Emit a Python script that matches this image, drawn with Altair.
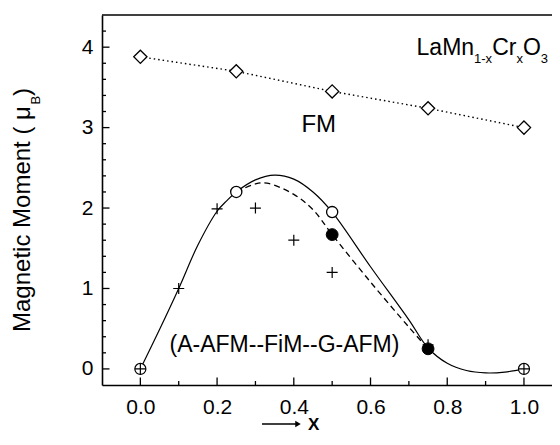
import altair as alt
import pandas as pd

FONT = "Liberation Sans"

# ---- data ----
fm_x = [0.0, 0.25, 0.5, 0.75, 1.0]
fm_y = [3.88, 3.70, 3.45, 3.24, 3.00]

open_x = [0.25, 0.5]
open_y = [2.2, 1.95]

filled_x = [0.5, 0.75]
filled_y = [1.67, 0.25]

cross_x = [0.0, 0.1, 0.2, 0.3, 0.4, 0.5, 0.75, 1.0]
cross_y = [0.0, 1.0, 1.99, 2.0, 1.6, 1.2, 0.3, 0.0]

ring_x = [0.0, 1.0]
ring_y = [0.0, 0.0]

solid_x = [0.0, 0.05, 0.1, 0.15, 0.2, 0.225, 0.25, 0.3, 0.35, 0.4, 0.45, 0.5, 0.6, 0.7, 0.75, 0.8, 0.85, 0.9, 0.95, 1.0]
solid_y = [0.0, 0.49, 1.0, 1.54, 1.96, 2.09, 2.2, 2.35, 2.41, 2.36, 2.2, 1.95, 1.27, 0.61, 0.26, 0.07, -0.02, -0.05, -0.04, 0.0]

dash_x = [0.25, 0.3, 0.33, 0.4, 0.45, 0.5, 0.6, 0.7, 0.75]
dash_y = [2.2, 2.3, 2.31, 2.17, 1.98, 1.67, 1.08, 0.52, 0.25]

x_major = [0.0, 0.2, 0.4, 0.6, 0.8, 1.0]
x_minor = [0.1, 0.3, 0.5, 0.7, 0.9]
y_major = [0, 1, 2, 3, 4]
y_minor = [0.2, 0.4, 0.6, 0.8, 1.2, 1.4, 1.6, 1.8, 2.2, 2.4, 2.6, 2.8,
           3.2, 3.4, 3.6, 3.8, 4.2]

W, H = 450, 370

xs = alt.Scale(domain=[-0.1, 1.0731], nice=False, zero=False)
ys = alt.Scale(domain=[-0.2, 4.4], nice=False, zero=False)

xaxis = alt.Axis(values=x_major, format=".1f", title=None, grid=False, ticks=False,
                 tickSize=0, labelPadding=11, labelFontSize=21, labelFont=FONT,
                 labelColor="black", domainColor="black", domainWidth=1.6,
                 labelFlush=False)
yaxis = alt.Axis(values=y_major, format="d", title=None, grid=False, ticks=False,
                 tickSize=0, labelPadding=9, labelFontSize=21, labelFont=FONT,
                 labelColor="black", domainColor="black", domainWidth=1.6)


def X(f="x"):
    return alt.X(f"{f}:Q", scale=xs, axis=xaxis)


def Y(f="y"):
    return alt.Y(f"{f}:Q", scale=ys, axis=yaxis)


df = lambda xx, yy: pd.DataFrame({"x": xx, "y": yy})

solid = alt.Chart(df(solid_x, solid_y)).mark_line(
    interpolate="catmull-rom", color="black", strokeWidth=1.2).encode(x=X(), y=Y())
dashed = alt.Chart(df(dash_x, dash_y)).mark_line(
    interpolate="catmull-rom", color="black", strokeWidth=1.3, strokeDash=[6, 4]).encode(x=X(), y=Y())
fmline = alt.Chart(df(fm_x, fm_y)).mark_line(
    color="black", strokeWidth=1.4, strokeDash=[1.5, 3]).encode(x=X(), y=Y())

diamonds = alt.Chart(df(fm_x, fm_y)).mark_point(
    shape="diamond", size=175, filled=True, fill="white", stroke="black",
    strokeWidth=1.3, opacity=1).encode(x=X(), y=Y())
rings = alt.Chart(df(ring_x, ring_y)).mark_point(
    shape="circle", size=121, filled=True, fill="white", stroke="black",
    strokeWidth=1.2, opacity=1).encode(x=X(), y=Y())
crosses = alt.Chart(df(cross_x, cross_y)).mark_point(
    shape="M-1,0L1,0M0,-1L0,1", size=121, filled=False, stroke="black",
    strokeWidth=1.2, opacity=1).encode(x=X(), y=Y())
opens = alt.Chart(df(open_x, open_y)).mark_point(
    shape="circle", size=125, filled=True, fill="white", stroke="black",
    strokeWidth=1.3, opacity=1).encode(x=X(), y=Y())
filleds = alt.Chart(df(filled_x, filled_y)).mark_point(
    shape="circle", size=140, filled=True, fill="black", stroke="black",
    strokeWidth=1, opacity=1).encode(x=X(), y=Y())

# inward ticks
xt_major = alt.Chart(pd.DataFrame({"t": x_major})).mark_rule(color="black", strokeWidth=1.3).encode(
    x=X("t"), y=alt.value(H), y2=alt.value(H - 7.5))
xt_minor = alt.Chart(pd.DataFrame({"t": x_minor})).mark_rule(color="black", strokeWidth=1.3).encode(
    x=X("t"), y=alt.value(H), y2=alt.value(H - 4))
yt_major = alt.Chart(pd.DataFrame({"t": y_major})).mark_rule(color="black", strokeWidth=1.3).encode(
    y=Y("t"), x=alt.value(0), x2=alt.value(7.5))
yt_minor = alt.Chart(pd.DataFrame({"t": y_minor})).mark_rule(color="black", strokeWidth=1.3).encode(
    y=Y("t"), x=alt.value(0), x2=alt.value(4))
top_frame = alt.Chart(pd.DataFrame({"a": [0]})).mark_rule(color="black", strokeWidth=1.6).encode(
    x=alt.value(0), x2=alt.value(W), y=alt.value(0))

# annotations
one = pd.DataFrame({"a": [0]})
fm_lab = alt.Chart(pd.DataFrame({"x": [0.465], "y": [2.95], "t": ["FM"]})).mark_text(
    font=FONT, fontSize=24, align="center", baseline="alphabetic", color="black").encode(
    x=X(), y=Y(), text="t:N")
phase_lab = alt.Chart(pd.DataFrame({"x": [0.076], "y": [0.21], "t": ["(A-AFM--FiM--G-AFM)"]})).mark_text(
    font=FONT, fontSize=23, align="left", baseline="alphabetic", color="black").encode(
    x=X(), y=Y(), text="t:N")

formula_parts = [("LaMn", 23, 0.0, 0), ("1-x", 13, 57.5, 8), ("Cr", 23, 75.6, 0),
                 ("x", 13, 99.9, 8), ("O", 23, 106.4, 0), ("3", 13, 124.3, 8)]
formula_layers = []
for txt, fs, dx, dy in formula_parts:
    formula_layers.append(
        alt.Chart(pd.DataFrame({"x": [0.72], "y": [3.904], "t": [txt]})).mark_text(
            font=FONT, fontSize=fs, align="left", baseline="alphabetic", dx=dx, dy=dy,
            color="black").encode(x=X(), y=Y(), text="t:N"))

# y-axis title: Magnetic Moment ( μB )
ytitle_parts = [("Magnetic Moment ( μ", 24, -72, 317), ("B", 13, -62, 89.6), (" )", 24, -72, 80.9)]
ytitle_layers = []
for txt, fs, px, py in ytitle_parts:
    ytitle_layers.append(
        alt.Chart(pd.DataFrame({"t": [txt]})).mark_text(
            font=FONT, fontSize=fs, align="left", baseline="alphabetic", angle=270,
            color="black").encode(x=alt.value(px), y=alt.value(py), text="t:N"))

# x-axis title: arrow + X
arrow_line = alt.Chart(one).mark_rule(color="black", strokeWidth=1.5).encode(
    x=alt.value(160), x2=alt.value(195), y=alt.value(409))
arrow_head = alt.Chart(one).mark_point(shape="triangle-right", size=40, filled=True,
                                       color="black", opacity=1).encode(
    x=alt.value(196), y=alt.value(409))
x_lab = alt.Chart(pd.DataFrame({"t": ["X"]})).mark_text(
    font=FONT, fontSize=17, fontWeight="bold", align="left", baseline="alphabetic",
    color="black").encode(x=alt.value(206), y=alt.value(414.5), text="t:N")

chart = alt.layer(
    solid, dashed, fmline, rings, crosses, diamonds, opens, filleds,
    xt_major, xt_minor, yt_major, yt_minor, top_frame,
    fm_lab, phase_lab, *formula_layers, *ytitle_layers,
    arrow_line, arrow_head, x_lab,
).properties(
    width=W, height=H,
    padding={"left": 94, "top": 7, "right": 0, "bottom": 49},
    autosize=alt.AutoSizeParams(type="none"),
    background="white",
).configure_view(stroke=None)

chart.save("out.html", embed_options={"renderer": "svg", "actions": False})
